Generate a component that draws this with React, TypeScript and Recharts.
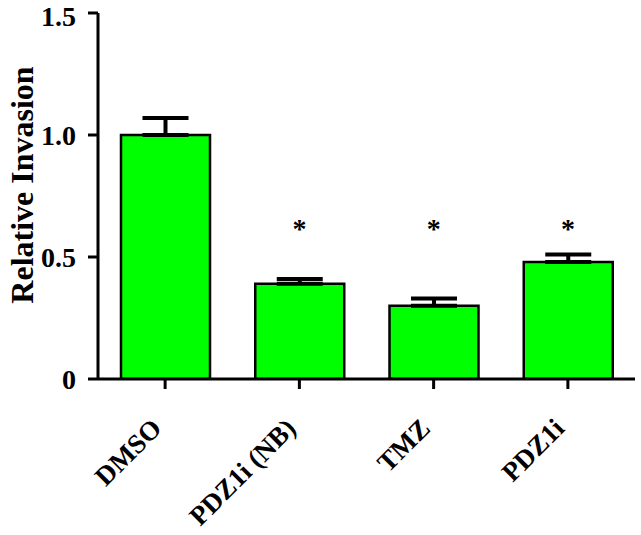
import { Bar, ComposedChart, ErrorBar, Label, Scatter, XAxis, YAxis } from "recharts";

const groups = ["DMSO", "PDZ1i (NB)", "TMZ", "PDZ1i"];
const invasion = [1.0, 0.39, 0.3, 0.48];
const sem = [0.07, 0.02, 0.03, 0.03];
const starLevel = [null, 0.63, 0.63, 0.63];
const yTicks = [0, 0.5, 1.0, 1.5];

const data = groups.map((name, i) => ({
  name,
  value: invasion[i],
  err: [0, sem[i]],
  star: starLevel[i],
}));

const font = '"Liberation Serif", "Times New Roman", serif';

const XTick = (props: any) => {
  const { x, y, payload } = props;
  return (
    <text
      x={x - 2}
      y={y + 41}
      transform={`rotate(-45, ${x - 2}, ${y + 41})`}
      textAnchor="end"
      fontFamily={font}
      fontWeight="bold"
      fontSize={27}
      fill="#000"
    >
      {payload.value}
    </text>
  );
};

const Star = (props: any) => {
  const { cx, cy } = props;
  if (cx == null || cy == null) return null;
  return (
    <text x={cx} y={cy + 13} textAnchor="middle" fontFamily={font} fontWeight="bold" fontSize={28} fill="#000">
      *
    </text>
  );
};

export default function App() {
  return (
    <div style={{ position: "absolute", left: 0, top: 0, background: "#fff" }}>
      <ComposedChart
        width={641}
        height={535}
        data={data}
        margin={{ top: 13, right: 6, bottom: 10, left: 0 }}
      >
        <XAxis
          dataKey="name"
          height={146}
          axisLine={{ stroke: "#000", strokeWidth: 3 }}
          tickLine={{ stroke: "#000", strokeWidth: 3 }}
          tickSize={10}
          tickMargin={0}
          interval={0}
          tick={<XTick />}
        />
        <YAxis
          width={98}
          domain={[0, 1.5]}
          ticks={yTicks}
          allowDataOverflow
          axisLine={{ stroke: "#000", strokeWidth: 3 }}
          tickLine={{ stroke: "#000", strokeWidth: 3 }}
          tickSize={10}
          tickMargin={12}
          tickFormatter={(v: number) => (v === 0 ? "0" : v.toFixed(1))}
          tick={{ fill: "#000", fontFamily: font, fontWeight: "bold", fontSize: 28 }}
        >
          <Label
            content={(p: any) => {
              const vb = p.viewBox;
              const cy = vb.y + vb.height / 2 - 11;
              return (
                <text
                  x={33}
                  y={cy}
                  transform={`rotate(-90, 33, ${cy})`}
                  textAnchor="middle"
                  fontFamily={font}
                  fontWeight="bold"
                  fontSize={32}
                  fill="#000"
                >
                  Relative Invasion
                </text>
              );
            }}
          />
        </YAxis>
        <Bar
          dataKey="value"
          barSize={89}
          fill="#00ff00"
          stroke="#000"
          strokeWidth={2.5}
          isAnimationActive={false}
        >
          <ErrorBar dataKey="err" width={23} stroke="#000" strokeWidth={4} direction="y" />
        </Bar>
        <Scatter dataKey="star" shape={<Star />} isAnimationActive={false} />
      </ComposedChart>
    </div>
  );
}
